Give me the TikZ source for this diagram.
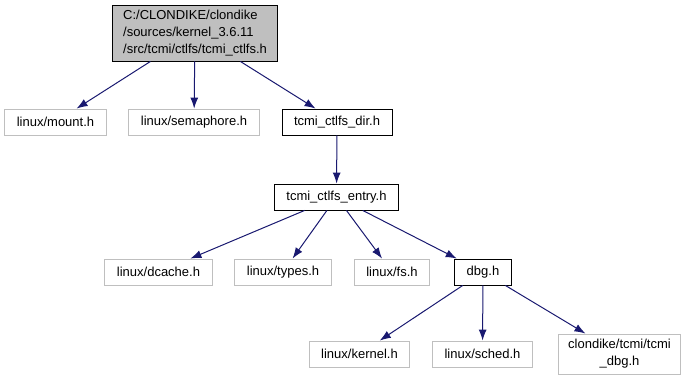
\documentclass[tikz,border=0pt]{standalone}
\usepackage{fontspec}
\setmainfont{Liberation Sans}
\usepackage{tikz}
\usetikzlibrary{arrows.meta}
\usetikzlibrary{positioning}
\definecolor{edgeblue}{RGB}{25,25,112}
\definecolor{greybox}{RGB}{191,191,191}
\newcommand{\graphfont}{\fontsize{13}{17}\selectfont}
\tikzstyle{block} = [rectangle, draw=black, line width=0.9pt, font=\graphfont, text centered, minimum height=26pt, inner xsep=12pt, inner ysep=3pt]
\tikzstyle{extern} = [block, draw=greybox]
\tikzstyle{line} = [draw, edgeblue, line width=1pt, -{Latex[length=11pt,width=8pt]}]

\begin{document}
\begin{tikzpicture}[x=1pt, y=1pt]
            \useasboundingbox (0,0) rectangle (689,-381);
            % Place nodes
            \node [block, fill=greybox, align=left, inner xsep=11pt, minimum height=56pt] (root) at (195,-33)
              {C:/CLONDIKE/clondike\\/sources/kernel\_3.6.11\\/src/tcmi/ctlfs/tcmi\_ctlfs.h};
            \node [extern, below of=root, node distance=89pt, xshift=-139.5pt] (mount) {linux/mount.h};
            \node [extern, below of=root, node distance=89pt, xshift=-1pt] (semaphore) {linux/semaphore.h};
            \node [block, below of=root, node distance=89pt, xshift=142pt] (ctlfsdir) {tcmi\_ctlfs\_dir.h};
            \node [block, below of=ctlfsdir, node distance=75pt, xshift=-0.5pt] (ctlfsentry) {tcmi\_ctlfs\_entry.h};
            \node [extern, below of=ctlfsentry, node distance=75pt, xshift=-178pt] (dcache) {linux/dcache.h};
            \node [extern, below of=ctlfsentry, node distance=75pt, xshift=-53.5pt] (types) {linux/types.h};
            \node [extern, below of=ctlfsentry, node distance=75pt, xshift=55.5pt] (fs) {linux/fs.h};
            \node [block, below of=ctlfsentry, node distance=75pt, xshift=146.5pt] (dbg) {dbg.h};
            \node [extern, below of=dbg, node distance=82pt, xshift=-123.5pt] (kernel) {linux/kernel.h};
            \node [extern, below of=dbg, node distance=82pt, xshift=-0.5pt] (sched) {linux/sched.h};
            \node [extern, below of=dbg, node distance=82pt, xshift=136.5pt, align=center, minimum height=40pt, inner xsep=10pt] (tcmidbg)
              {clondike/tcmi/tcmi\\\_dbg.h};
            % Draw edges
            \path [line] (root) -- (mount);
            \path [line] (root) -- (semaphore);
            \path [line] (root) -- (ctlfsdir);
            \path [line] (ctlfsdir) -- (ctlfsentry);
            \path [line] (ctlfsentry) -- (dcache);
            \path [line] (ctlfsentry) -- (types);
            \path [line] (ctlfsentry) -- (fs);
            \path [line] (ctlfsentry) -- (dbg);
            \path [line] (dbg) -- (kernel);
            \path [line] (dbg) -- (sched);
            \path [line] (dbg) -- (tcmidbg);
          \end{tikzpicture}
\end{document}
